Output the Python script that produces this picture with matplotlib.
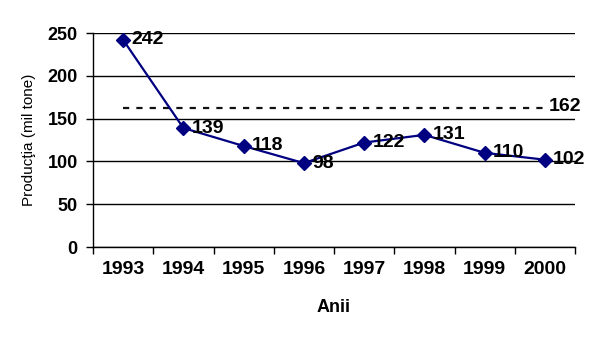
import matplotlib
matplotlib.use("Agg")
import matplotlib.pyplot as plt
import numpy as np

years = ["1993", "1994", "1995", "1996", "1997", "1998", "1999", "2000"]
production = [242, 139, 118, 98, 122, 131, 110, 102]
average = [162, 162, 162, 162, 162, 162, 162, 162]
y_ticks = [0, 50, 100, 150, 200, 250]

plt.rcParams['font.family'] = ['Liberation Sans', 'DejaVu Sans']

fig = plt.figure(figsize=(5.9, 3.43), dpi=100)
ax = fig.add_axes([93/590, 1-247/343, (575-93)/590, (247-33)/343])

x = np.arange(len(years))
ax.plot(x, average, color='#111111', lw=1.6, ls=(0, (2.8, 3.2)), zorder=3)
ax.plot(x, production, color='#000080', lw=1.6, marker='D', markersize=7,
        markerfacecolor='#000080', markeredgecolor='#000080', zorder=4)

for xi, v in zip(x, production):
    ax.annotate(str(v), (xi, v), xytext=(6, 0), textcoords='offset points',
                ha='left', va='center', fontsize=14, fontweight='bold', zorder=5)
ax.annotate(str(average[-1]), (x[-1], average[-1]), xytext=(3, 1), textcoords='offset points',
            ha='left', va='center', fontsize=14, fontweight='bold')

ax.set_xlim(-0.5, len(years) - 0.5)
ax.set_ylim(0, 250)
ax.set_yticks(y_ticks)
ax.set_yticklabels([str(t) for t in y_ticks], fontsize=13, fontweight='bold')
ax.yaxis.grid(True, color='black', lw=1)
ax.set_axisbelow(True)

ax.set_xticks(np.arange(-0.5, len(years)))
ax.set_xticklabels([])
ax.set_xticks(x, minor=True)
ax.set_xticklabels(years, minor=True, fontsize=14, fontweight='bold')
ax.tick_params(axis='x', which='major', length=5, width=1, color='black', direction='out')
ax.tick_params(axis='x', which='minor', length=0, pad=10)
ax.tick_params(axis='y', length=5, width=1, direction='out', pad=6)

for s in ['top', 'right']:
    ax.spines[s].set_visible(False)
for s in ['left', 'bottom']:
    ax.spines[s].set_color('black')
    ax.spines[s].set_linewidth(1)

ax.set_xlabel('Anii', fontsize=13, fontweight='bold', labelpad=15)
ax.set_ylabel('Producţia (mil tone)', fontsize=11, labelpad=8)

fig.savefig('out.png', dpi=100, facecolor='white')
